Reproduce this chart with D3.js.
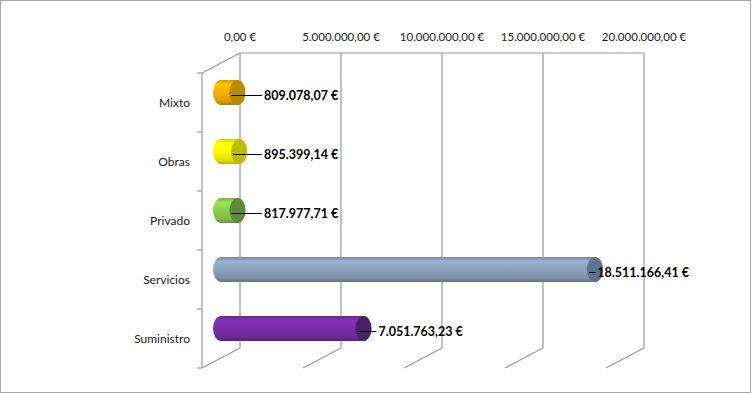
<!DOCTYPE html>
<html>
<head>
    <meta charset="utf-8">
    <title>Importe por tipo de contrato</title>
    <script src="https://cdn.jsdelivr.net/npm/d3@7"></script>
    <style>
        body { margin: 0; background: white; }
        svg { display: block; font-family: Lato, "Open Sans", sans-serif; }
        .tick-label { font-size: 11.5px; fill: #1a1a1a; }
        .cat-label { font-size: 12px; fill: #1a1a1a; }
        .value-label { font-size: 12.5px; font-weight: bold; fill: #000; }
        .grid { stroke: #999; stroke-width: 1.2; fill: none; }
    </style>
</head>
<body>
<div id="chart"></div>
<script>
    // data
    const categories = ["Mixto", "Obras", "Privado", "Servicios", "Suministro"];
    const values = [809078.07, 895399.14, 817977.71, 18511166.41, 7051763.23];
    const tickValues = [0, 5000000, 10000000, 15000000, 20000000];
    const bodyColors = ["#f5b400", "#ffff00", "#92d050", "#8da2bf", "#7a2ea8"];
    const capColors = ["#b88a00", "#bcbc00", "#5d8a34", "#5e7292", "#4a1f6e"];

    const W = 752, H = 394;
    const depth = {dx: -38, dy: 20};

    const locale = d3.formatLocale({decimal: ",", thousands: ".", grouping: [3], currency: ["", " €"]});
    const fmt = locale.format("$,.2f");

    const svg = d3.select("#chart").append("svg")
        .attr("width", W).attr("height", H);

    // outer border
    svg.append("rect")
        .attr("x", 0.5).attr("y", 0.5)
        .attr("width", W - 2).attr("height", H - 2)
        .attr("fill", "white").attr("stroke", "#a6a6a6");

    // scales for back wall
    const x = d3.scaleLinear().domain([0, 20000000]).range([240, 644]);
    const y = d3.scaleBand().domain(categories).range([53, 348]);

    const defs = svg.append("defs");
    categories.forEach((c, i) => {
        const g = defs.append("linearGradient")
            .attr("id", "body" + i).attr("x1", 0).attr("y1", 0).attr("x2", 0).attr("y2", 1);
        const base = d3.color(bodyColors[i]);
        g.append("stop").attr("offset", "0%").attr("stop-color", base.darker(0.5));
        g.append("stop").attr("offset", "18%").attr("stop-color", base.brighter(0.25));
        g.append("stop").attr("offset", "45%").attr("stop-color", base);
        g.append("stop").attr("offset", "85%").attr("stop-color", base.darker(0.35));
        g.append("stop").attr("offset", "100%").attr("stop-color", base.darker(1));
    });

    // back wall grid
    const grid = svg.append("g");
    grid.append("line").attr("class", "grid")
        .attr("x1", x(0)).attr("x2", x(20000000))
        .attr("y1", y.range()[0]).attr("y2", y.range()[0]);
    tickValues.forEach(v => {
        grid.append("line").attr("class", "grid")
            .attr("x1", x(v)).attr("x2", x(v))
            .attr("y1", y.range()[0]).attr("y2", y.range()[1]);
        // floor lines
        grid.append("line").attr("class", "grid")
            .attr("x1", x(v)).attr("x2", x(v) + depth.dx)
            .attr("y1", y.range()[1]).attr("y2", y.range()[1] + depth.dy);
    });

    // left (front) axis
    const fx = x(0) + depth.dx;
    grid.append("line").attr("class", "grid")
        .attr("x1", x(0)).attr("y1", y.range()[0])
        .attr("x2", fx).attr("y2", y.range()[0] + depth.dy);
    grid.append("line").attr("class", "grid")
        .attr("x1", fx).attr("x2", fx)
        .attr("y1", y.range()[0] + depth.dy).attr("y2", y.range()[1] + depth.dy);
    const bandEdges = categories.map(c => y(c)).concat([y.range()[1]]);
    bandEdges.forEach(b => {
        grid.append("line").attr("class", "grid")
            .attr("x1", fx - 5).attr("x2", fx)
            .attr("y1", b + depth.dy).attr("y2", b + depth.dy);
    });

    // top tick labels
    svg.append("g").selectAll("text")
        .data(tickValues).join("text")
        .attr("class", "tick-label")
        .attr("x", d => x(d)).attr("y", 41)
        .attr("text-anchor", "middle")
        .text(d => fmt(d));

    // category labels
    svg.append("g").selectAll("text")
        .data(categories).join("text")
        .attr("class", "cat-label")
        .attr("x", 190)
        .attr("y", d => y(d) + y.bandwidth() / 2 + depth.dy + 4)
        .attr("text-anchor", "end")
        .text(d => d);

    // cylinders (mid depth)
    const rx = 8, ry = 12.5;
    const bars = svg.append("g");
    categories.forEach((c, i) => {
        const cy = y(c) + y.bandwidth() / 2 + depth.dy / 2;
        const x0 = x(0) + depth.dx / 2;
        const x1 = x(values[i]) + depth.dx / 2;
        const top = cy - ry, bot = cy + ry;
        bars.append("path")
            .attr("d", `M${x0},${top} L${x1},${top} A${rx},${ry} 0 0 1 ${x1},${bot} L${x0},${bot} A${rx},${ry} 0 0 1 ${x0},${top} Z`)
            .attr("fill", `url(#body${i})`);
        bars.append("ellipse")
            .attr("cx", x1).attr("cy", cy).attr("rx", rx).attr("ry", ry)
            .attr("fill", capColors[i]);

        // value label with leader line
        const ly = cy + 3;
        const label = svg.append("text")
            .attr("class", "value-label")
            .attr("y", ly + 4)
            .text(fmt(values[i]));
        const tw = label.node().getComputedTextLength();
        let lx = Math.max(x1 + 15, 264);
        lx = Math.min(lx, 689 - tw);
        label.attr("x", lx);
        svg.append("line")
            .attr("x1", x1 - 6).attr("x2", lx - 2)
            .attr("y1", ly).attr("y2", ly)
            .attr("stroke", "#000").attr("stroke-width", 1);
    });
</script>
</body>
</html>
